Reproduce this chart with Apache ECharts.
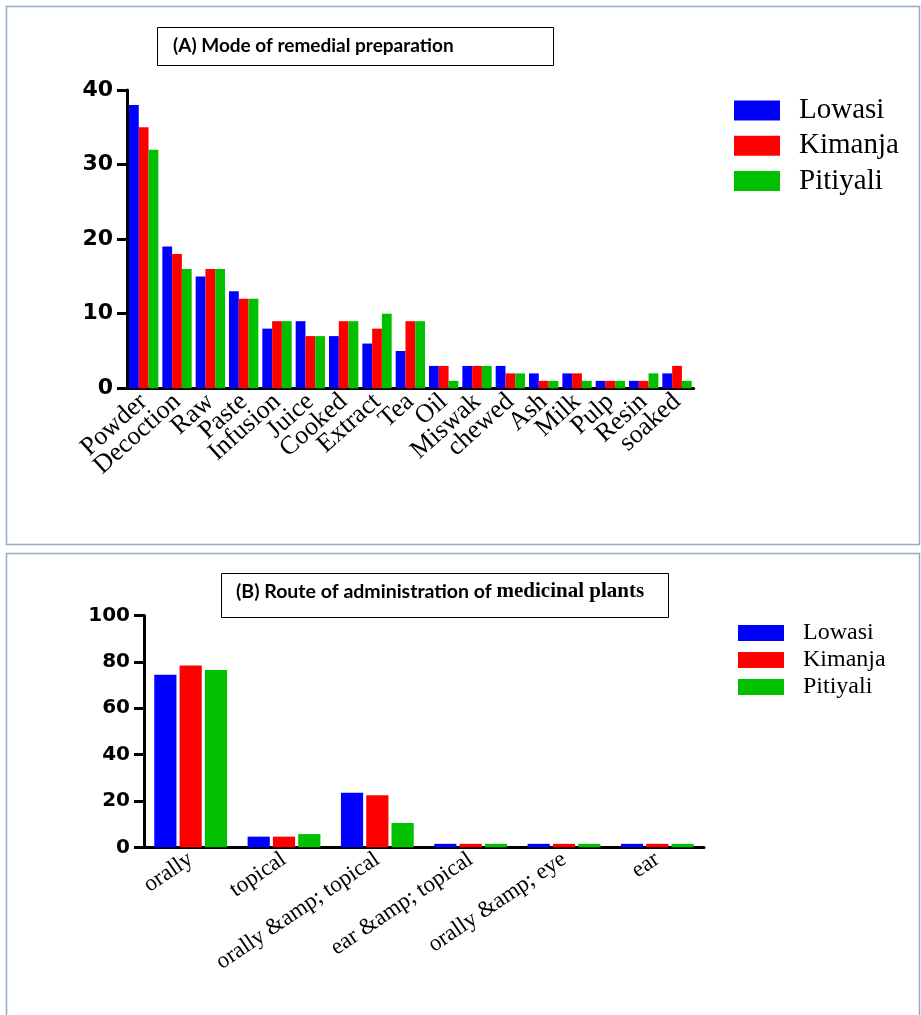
<!DOCTYPE html>
<html>
<head>
<meta charset="utf-8">
<script src="https://cdn.jsdelivr.net/npm/echarts@6/dist/echarts.min.js"></script>
<style>
  html, body { margin: 0; padding: 0; background: #fff; }
  #chart { width: 921px; height: 1015px; }
</style>
</head>
<body>
<div id="chart"></div>
<script>
// (A) Mode of remedial preparation
const prepCategories = ['Powder', 'Decoction', 'Raw', 'Paste', 'Infusion', 'Juice', 'Cooked', 'Extract',
  'Tea', 'Oil', 'Miswak', 'chewed', 'Ash', 'Milk', 'Pulp', 'Resin', 'soaked'];
const prepLowasi   = [38, 19, 15, 13, 8, 9, 7, 6, 5, 3, 3, 3, 2, 2, 1, 1, 2];
const prepKimanja  = [35, 18, 16, 12, 9, 7, 9, 8, 9, 3, 3, 2, 1, 2, 1, 1, 3];
const prepPitiyali = [32, 16, 16, 12, 9, 7, 9, 10, 9, 1, 3, 2, 1, 1, 1, 2, 1];
const prepTicks = [0, 10, 20, 30, 40];

// (B) Route of administration of medicinal plants
const routeCategories = ['orally', 'topical', 'orally &amp; topical', 'ear &amp; topical', 'orally &amp; eye', 'ear'];
const routeLowasi   = [74.5, 4.6, 23.5, 1.5, 1.5, 1.5];
const routeKimanja  = [78.5, 4.6, 22.5, 1.5, 1.5, 1.5];
const routePitiyali = [76.5, 5.7, 10.5, 1.5, 1.5, 1.5];
const routeTicks = [0, 20, 40, 60, 80, 100];

const siteNames = ['Lowasi', 'Kimanja', 'Pitiyali'];
const siteColors = ['#0000ff', '#ff0000', '#00c000'];

const chart = echarts.init(document.getElementById('chart'), null, { renderer: 'canvas' });

const axisLineStyle = { color: '#000', width: 3 };
const yLabel = { fontFamily: 'DejaVu Sans', fontWeight: 'bold', color: '#000' };

function barSeries(name, data, idx, color, opts) {
  return Object.assign({
    name: name,
    type: 'bar',
    xAxisIndex: idx,
    yAxisIndex: idx,
    data: data,
    itemStyle: { color: color },
    emphasis: { disabled: true }
  }, opts);
}

const option = {
  animation: false,
  backgroundColor: '#fff',
  grid: [
    { left: 127, top: 90, width: 566.7, height: 298.3 },
    { left: 144, top: 615.6, width: 560, height: 231.7 }
  ],
  xAxis: [
    {
      gridIndex: 0, type: 'category', data: prepCategories,
      axisLine: { lineStyle: axisLineStyle },
      axisTick: { alignWithLabel: true, length: 7, lineStyle: { color: '#000', width: 3 } },
      axisLabel: { rotate: 42, interval: 0, margin: 10, fontFamily: 'Liberation Serif', fontSize: 26, color: '#000' }
    },
    {
      gridIndex: 1, type: 'category', data: routeCategories,
      axisLine: { lineStyle: axisLineStyle },
      axisTick: { alignWithLabel: true, length: 6, lineStyle: { color: '#000', width: 3 } },
      axisLabel: { rotate: 34, interval: 0, margin: 10, fontFamily: 'Liberation Serif', fontSize: 23, color: '#000' }
    }
  ],
  yAxis: [
    {
      gridIndex: 0, type: 'value', min: prepTicks[0], max: prepTicks[prepTicks.length - 1], interval: 10,
      splitLine: { show: false },
      axisLine: { show: true, lineStyle: axisLineStyle },
      axisTick: { show: true, length: 10, lineStyle: { color: '#000', width: 3 } },
      axisLabel: Object.assign({ fontSize: 22, margin: 14 }, yLabel)
    },
    {
      gridIndex: 1, type: 'value', min: routeTicks[0], max: routeTicks[routeTicks.length - 1], interval: 20,
      splitLine: { show: false },
      axisLine: { show: true, lineStyle: axisLineStyle },
      axisTick: { show: true, length: 10, lineStyle: { color: '#000', width: 3 } },
      axisLabel: Object.assign({ fontSize: 20, margin: 14 }, yLabel)
    }
  ],
  legend: [
    {
      data: siteNames, orient: 'vertical', left: 729, top: 91,
      itemWidth: 46, itemHeight: 20, itemGap: 6.3, icon: 'rect',
      selectedMode: false,
      textStyle: { fontFamily: 'Liberation Serif', fontSize: 29, color: '#000', padding: [0, 0, 0, 14] }
    },
    {
      data: siteNames, orient: 'vertical', left: 733, top: 616,
      itemWidth: 46, itemHeight: 16, itemGap: 3, icon: 'rect',
      selectedMode: false,
      textStyle: { fontFamily: 'Liberation Serif', fontSize: 24, color: '#000', padding: [0, 0, 0, 14] }
    }
  ],
  series: [
    barSeries(siteNames[0], prepLowasi, 0, siteColors[0], { barGap: '0%', barCategoryGap: '12%' }),
    barSeries(siteNames[1], prepKimanja, 0, siteColors[1], { barGap: '0%', barCategoryGap: '12%' }),
    barSeries(siteNames[2], prepPitiyali, 0, siteColors[2], { barGap: '0%', barCategoryGap: '12%' }),
    barSeries(siteNames[0], routeLowasi, 1, siteColors[0], { barGap: '14%', barCategoryGap: '22%' }),
    barSeries(siteNames[1], routeKimanja, 1, siteColors[1], { barGap: '14%', barCategoryGap: '22%' }),
    barSeries(siteNames[2], routePitiyali, 1, siteColors[2], { barGap: '14%', barCategoryGap: '22%' })
  ],
  graphic: [
    // panel frames
    { type: 'rect', shape: { x: 6.5, y: 6.5, width: 913, height: 538 }, style: { fill: 'none', stroke: '#93abcb', lineWidth: 1.5 }, silent: true },
    { type: 'rect', shape: { x: 6.5, y: 553.5, width: 913, height: 470 }, style: { fill: 'none', stroke: '#93abcb', lineWidth: 1.5 }, silent: true },
    // panel headings
    { type: 'rect', shape: { x: 157.5, y: 27.5, width: 396, height: 38 }, style: { fill: '#fff', stroke: '#000', lineWidth: 1 }, silent: true },
    {
      type: 'text', x: 173, y: 46, silent: true,
      style: { text: '(A) Mode of remedial preparation', fontFamily: 'Lato', fontWeight: 'bold', fontSize: 19, fill: '#000', verticalAlign: 'middle' }
    },
    { type: 'rect', shape: { x: 221.5, y: 573.5, width: 447, height: 44 }, style: { fill: '#fff', stroke: '#000', lineWidth: 1 }, silent: true },
    {
      type: 'text', x: 236, y: 592, silent: true,
      style: {
        text: '{a|(B) Route of administration of }{b|medicinal plants}',
        verticalAlign: 'middle',
        rich: {
          a: { fontFamily: 'Lato', fontWeight: 'bold', fontSize: 19.5, fill: '#000' },
          b: { fontFamily: 'Liberation Serif', fontWeight: 'bold', fontSize: 21, fill: '#000' }
        }
      }
    }
  ]
};

chart.setOption(option);
</script>
</body>
</html>
